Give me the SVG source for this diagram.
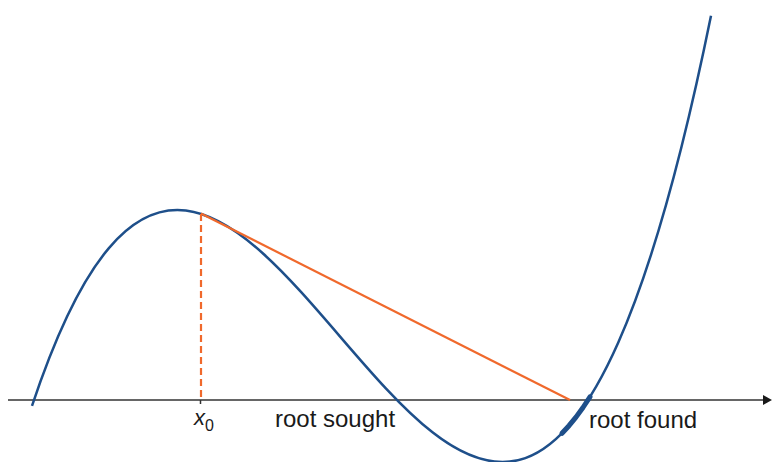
<svg xmlns="http://www.w3.org/2000/svg" width="772" height="462" viewBox="0 0 772 462">
  <style>
    .axis { stroke: #333333; stroke-width: 1.5; fill: none; }
    .curve { stroke: #1e4f8a; stroke-width: 2.5; fill: none; }
    .orange { stroke: #f0692c; stroke-width: 2.2; fill: none; }
    .lbl { font-family: "Liberation Sans", Arial, sans-serif; font-size: 24px; fill: #1a1a1a; }
  </style>
  <rect width="772" height="462" fill="#ffffff"/>
  <g id="axis">
    <line class="axis" x1="8" y1="400" x2="766" y2="400"/>
    <polygon points="763,395 772,400 763,405" fill="#1a1a1a"/>
    <line class="axis" x1="200.5" y1="400" x2="200.5" y2="404"/>
  </g>
  <g id="curve">
    <path class="curve" d="M32,405.96 C258.33,-275.08 484.67,1128.23 711,15.8"/>
    <polyline points="562,433.3 569,425.7 576,417.1 583,407.5 590,396.8" fill="none" stroke="#1e4f8a" stroke-width="5" stroke-linecap="round" stroke-linejoin="round"/>
  </g>
  <g id="tangent">
    <line class="orange" x1="201" y1="213.5" x2="570" y2="400"/>
    <line class="orange" x1="201" y1="214" x2="201" y2="400" stroke-dasharray="7 4"/>
  </g>
  <g id="labels">
    <text x="194" y="425" font-family="Liberation Sans, Arial, sans-serif" font-size="22" font-style="italic" fill="#1a1a1a">x<tspan font-size="16" font-style="normal" dy="6">0</tspan></text>
    <text class="lbl" x="275" y="427">root sought</text>
    <text class="lbl" x="589" y="428">root found</text>
  </g>
</svg>
